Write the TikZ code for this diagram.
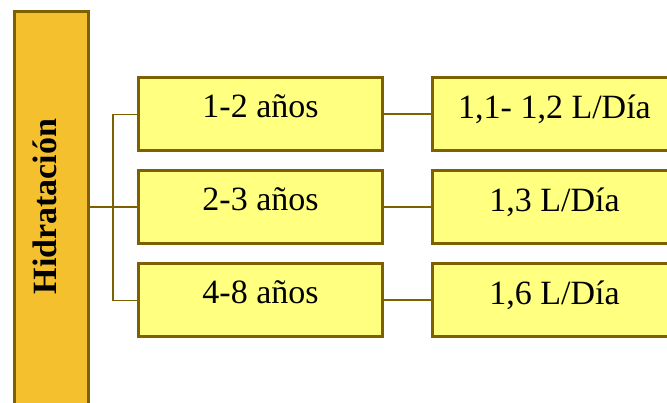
\documentclass[tikz,border=0pt]{standalone}
\usepackage{fontspec}
\setmainfont{Liberation Serif}
\definecolor{brd}{HTML}{7F6000}
\definecolor{mainfill}{HTML}{F4C02E}
\definecolor{boxfill}{HTML}{FFFF80}
\tikzset{
  agebox/.style={draw=brd, fill=boxfill, line width=3pt, minimum width=244pt, minimum height=73pt, inner sep=0pt, text height=20pt, text depth=13pt, font=\fontsize{34}{40}\selectfont},
  valbox/.style={draw=brd, fill=boxfill, line width=3pt, minimum width=244pt, minimum height=73pt, inner sep=0pt, text height=20pt, text depth=12pt, font=\fontsize{34}{40}\selectfont},
  mainbox/.style={draw=brd, fill=mainfill, line width=3pt, minimum width=74pt, minimum height=394.5pt, inner sep=0pt},
  conn/.style={draw=brd, line width=2pt},
  bus/.style={draw=brd, line width=1.5pt}
}
\begin{document}
\begin{tikzpicture}[x=1pt,y=1pt]
\clip (0,0) rectangle (667,403);
\useasboundingbox (0,0) rectangle (667,403);
\node[mainbox] (main) at (51.5,194.25) {};
\node[rotate=90, inner sep=0pt, text height=20pt, text depth=9pt, font=\bfseries\fontsize{34}{40}\selectfont] (title) at (51.5,196.5) {Hidratación};
\node[agebox] (a1) at (260.5,288.5) {1-2 años};
\node[agebox] (a2) at (260.5,195.5) {2-3 años};
\node[agebox] (a3) at (260.5,102.5) {4-8 años};
\node[valbox] (b1) at (554.5,288.5) {1,1- 1,2 L/Día};
\node[valbox] (b2) at (554.5,195.5) {1,3 L/Día};
\node[valbox] (b3) at (554.5,102.5) {1,6 L/Día};
\coordinate (bus) at (113,0);
\draw[conn] (main.east |- a2.west) -- (a2.west);
\draw[bus] (a1.west) -- (a1.west -| bus) -- (a3.west -| bus) -- (a3.west);
\draw[conn] (a1.east) -- (b1.west);
\draw[conn] (a2.east) -- (b2.west);
\draw[conn] (a3.east) -- (b3.west);
\end{tikzpicture}
\end{document}
